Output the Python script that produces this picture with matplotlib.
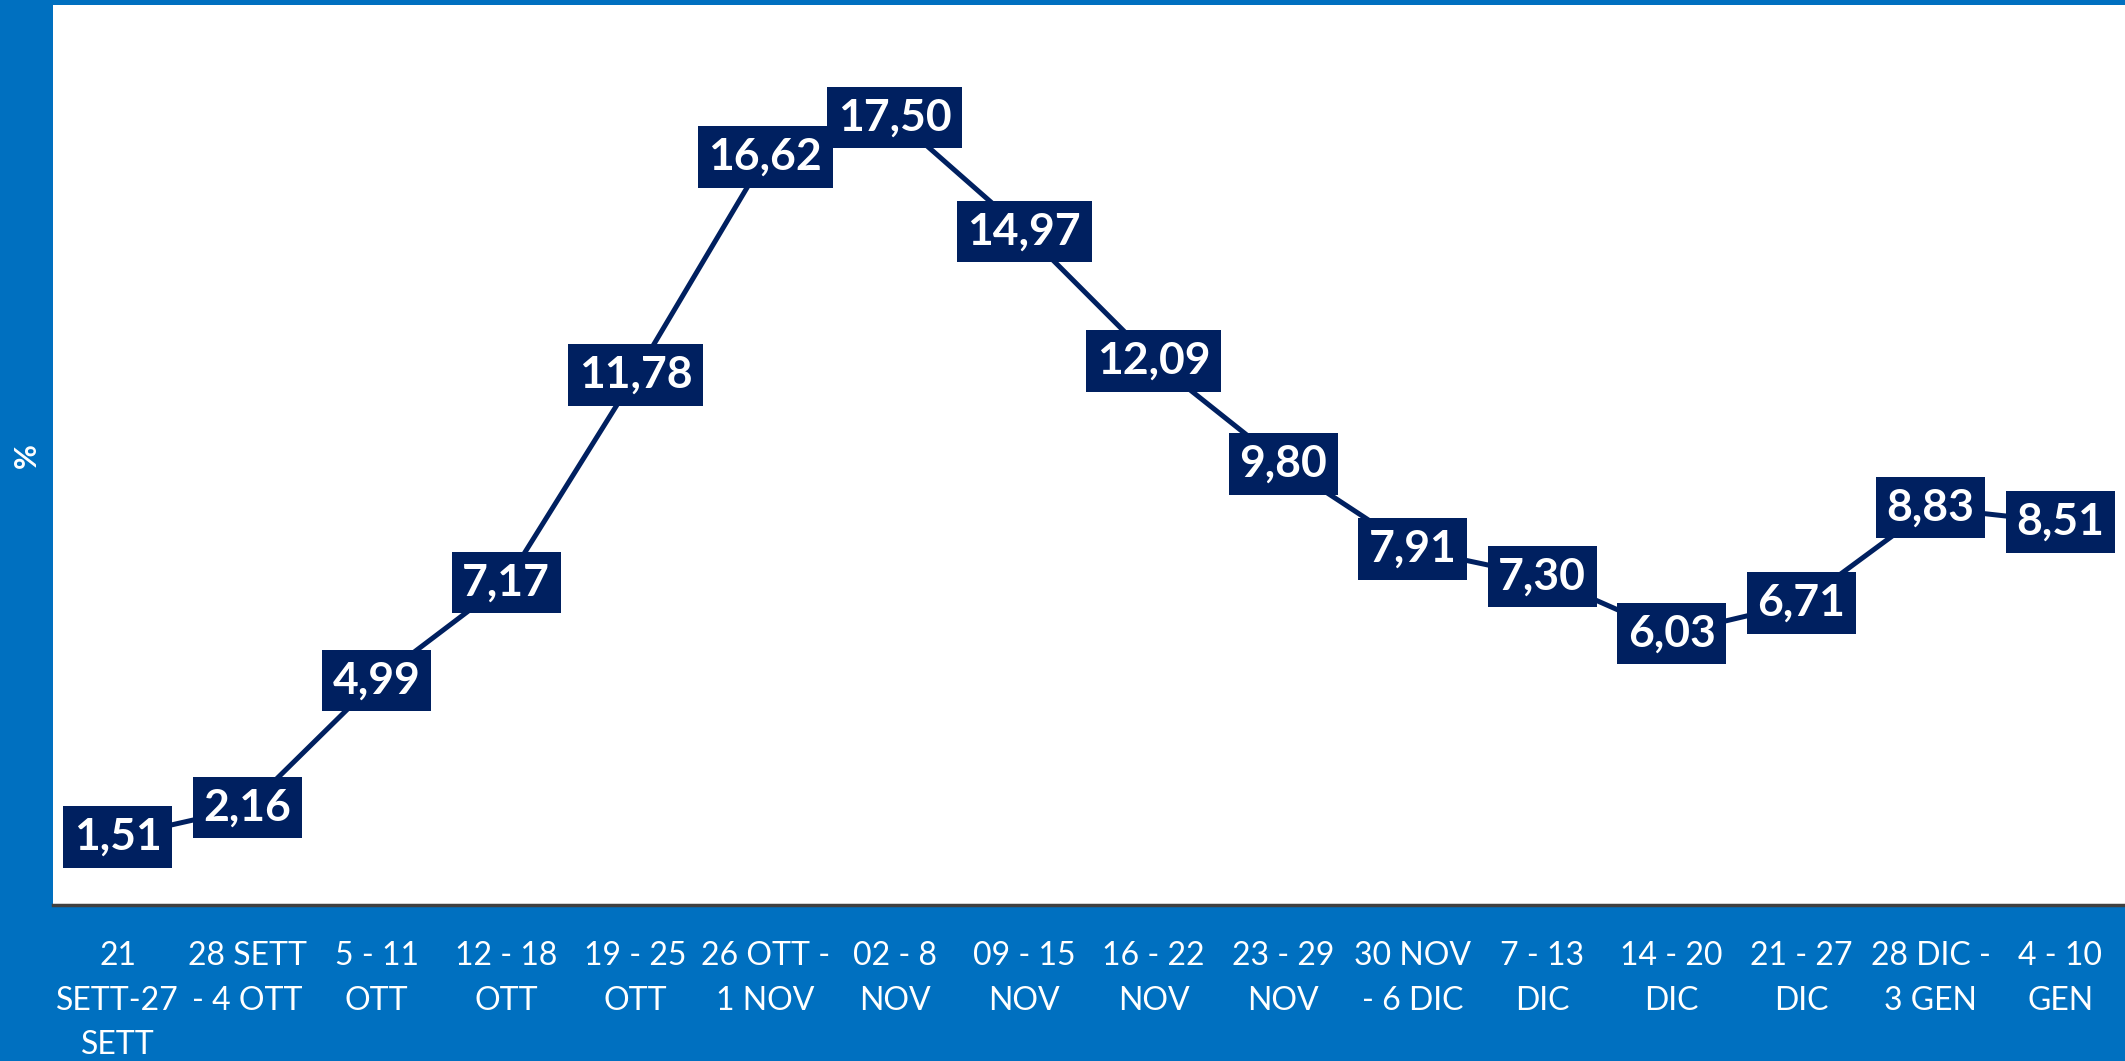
import matplotlib
matplotlib.use("Agg")
import matplotlib.pyplot as plt

# Weekly percentages
weeks = ["21\nSETT-27\nSETT", "28 SETT\n- 4 OTT", "5 - 11\nOTT", "12 - 18\nOTT",
         "19 - 25\nOTT", "26 OTT -\n1 NOV", "02 - 8\nNOV", "09 - 15\nNOV",
         "16 - 22\nNOV", "23 - 29\nNOV", "30 NOV\n- 6 DIC", "7 - 13\nDIC",
         "14 - 20\nDIC", "21 - 27\nDIC", "28 DIC -\n3 GEN", "4 - 10\nGEN"]
values = [1.51, 2.16, 4.99, 7.17, 11.78, 16.62, 17.50, 14.97,
          12.09, 9.80, 7.91, 7.30, 6.03, 6.71, 8.83, 8.51]

blue = "#0070C0"
navy = "#002060"

plt.rcParams['font.family'] = ['Lato', 'DejaVu Sans']

fig = plt.figure(figsize=(21.25, 10.61), dpi=100, facecolor=blue)
ax = fig.add_axes([0.0249, 0.147, 0.9751, 0.8483])
ax.set_facecolor("white")

x = list(range(len(values)))
ax.plot(x, values, color=navy, lw=3.6, zorder=2)

for xi, v in zip(x, values):
    ax.text(xi, v, f"{v:.2f}".replace(".", ","), ha="center", va="center",
            fontsize=32, fontweight="bold", color="white", zorder=3,
            bbox=dict(boxstyle="square,pad=0.24", fc=navy, ec="none"))

ax.set_xlim(-0.5, len(values) - 0.5)
ax.set_ylim(0, 20)
ax.set_xticks(x)
ax.set_xticklabels(weeks, fontsize=23, color="white", linespacing=1.6)
ax.tick_params(axis="x", length=0, pad=26)
ax.set_yticks([])
for s in ["top", "right", "left"]:
    ax.spines[s].set_visible(False)
ax.spines["bottom"].set_color("#404040")
ax.spines["bottom"].set_linewidth(2.5)

fig.text(0.0125, 0.571, "%", rotation=90, ha="center", va="center",
         fontsize=22, fontweight="bold", color="white")

fig.savefig("out.png", dpi=100, facecolor=blue)
